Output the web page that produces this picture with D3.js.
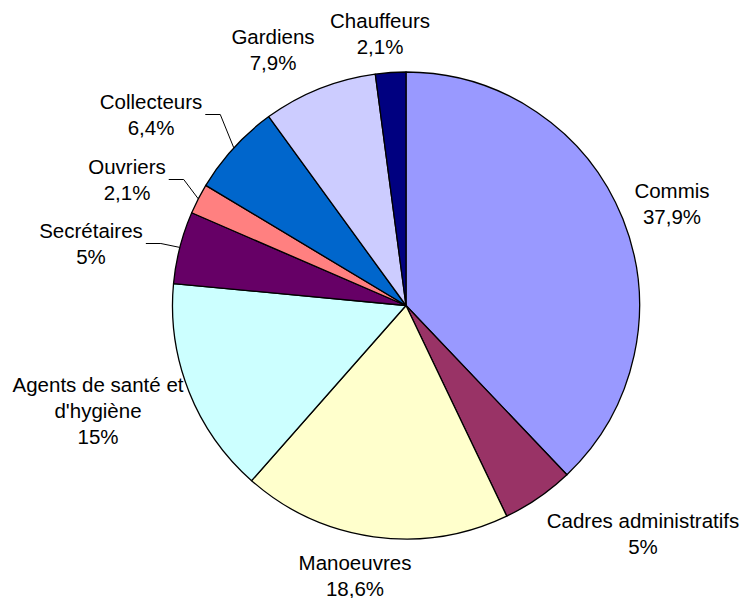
<!DOCTYPE html>
<html>
<head>
<meta charset="utf-8">
<script src="https://cdn.jsdelivr.net/npm/d3@7"></script>
<style>
  body { margin: 0; background: #fff; }
  text { font-family: "Liberation Sans", Arial, sans-serif; font-size: 20.5px; fill: #000; }
</style>
</head>
<body>
<svg id="chart"></svg>
<script>
const categories = ['Commis', 'Cadres administratifs', 'Manoeuvres', "Agents de santé et d'hygiène",
    'Secrétaires', 'Ouvriers', 'Collecteurs', 'Gardiens', 'Chauffeurs'];
const values = [37.9, 5, 18.6, 15, 5, 2.1, 6.4, 7.9, 2.1];
const valueLabels = ['37,9%', '5%', '18,6%', '15%', '5%', '2,1%', '6,4%', '7,9%', '2,1%'];
const labelLines = [['Commis'], ['Cadres administratifs'], ['Manoeuvres'], ['Agents de santé et', "d'hygiène"],
    ['Secrétaires'], ['Ouvriers'], ['Collecteurs'], ['Gardiens'], ['Chauffeurs']];
const colors = ['#9999FF', '#993366', '#FFFFCC', '#CCFFFF', '#660066', '#FF8080', '#0066CC', '#CCCCFF', '#000080'];

// label anchors (first baseline), relative to pie centre
const labelAt = [[266, -108], [237, 222], [-51, 264], [-308, 86], [-315, -68], [-279, -132], [-255, -197], [-133, -262], [-26, -278]];
const withLeader = [false, false, false, false, true, true, true, false, false];

const width = 744, height = 598;
const cx = 406, cy = 305.5, radius = 233.5;
const lineH = 26;

const svg = d3.select('#chart').attr('width', width).attr('height', height);

const pie = d3.pie().sort(null).value(d => d);
const arcs = pie(values);
const arc = d3.arc().innerRadius(0).outerRadius(radius);

const g = svg.append('g').attr('transform', `translate(${cx},${cy})`);

g.selectAll('path.slice')
    .data(arcs)
    .enter()
    .append('path')
    .attr('class', 'slice')
    .attr('d', arc)
    .attr('fill', (d, i) => colors[i])
    .attr('stroke', '#000')
    .attr('stroke-width', 1.3)
    .attr('stroke-linejoin', 'round');

const labels = g.selectAll('g.label')
    .data(arcs)
    .enter()
    .append('g')
    .attr('class', 'label');

labels.each(function(d, i) {
    const lg = d3.select(this);
    const [x, y] = labelAt[i];
    const lines = labelLines[i].concat([valueLabels[i]]);
    const t = lg.append('text').attr('text-anchor', 'middle');
    lines.forEach((s, k) => {
        t.append('tspan').attr('x', x).attr('y', y + k * lineH).text(s);
    });
    if (withLeader[i]) {
        const w = t.select('tspan').node().getComputedTextLength();
        const mid = (d.startAngle + d.endAngle) / 2;
        const ex = radius * Math.sin(mid), ey = -radius * Math.cos(mid);
        const sx = x + w / 2 + 3, sy = y + 6;
        lg.append('path')
            .attr('d', d3.line()([[sx, sy], [sx + 15, sy], [ex, ey]]))
            .attr('fill', 'none')
            .attr('stroke', '#000')
            .attr('stroke-width', 1);
    }
});
</script>
</body>
</html>
